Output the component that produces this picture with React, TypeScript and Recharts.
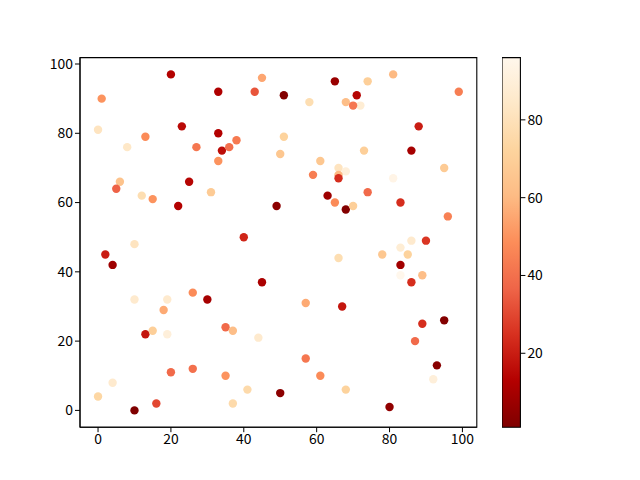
import React from 'react';
import { ScatterChart, Scatter, XAxis, YAxis, Cell, ComposedChart, ReferenceArea } from 'recharts';

// scatter positions and colour values
const xs = [
  20, 45, 1, 33, 43, 0, 23, 33, 38, 13, 8, 27, 34, 36, 33, 6, 5, 25, 12, 15, 31, 22, 49,
  51, 65, 74, 81, 58, 68, 71, 72, 70, 99, 51, 88, 50, 73, 86, 61, 66, 68, 95, 59, 66, 66, 81, 63, 65, 68, 70, 74, 83, 96,
  40, 10, 2, 4, 45, 26, 30, 10, 19, 18, 35, 37, 13, 15, 19, 44, 20, 26, 35, 4, 0, 41, 37, 16, 10, 50,
  86, 90, 83, 78, 85, 66, 83, 83, 86, 89, 57, 67, 95, 89, 87, 57, 61, 93, 92, 68, 80,
];
const ys = [
  97, 96, 90, 92, 92, 81, 82, 80, 78, 79, 76, 76, 75, 76, 72, 66, 64, 66, 62, 61, 63, 59, 59,
  91, 95, 95, 97, 89, 89, 91, 88, 88, 92, 79, 82, 74, 75, 75, 72, 70, 69, 70, 68, 68, 67, 67, 62, 60, 58, 59, 63, 60, 56,
  50, 48, 45, 42, 37, 34, 32, 32, 32, 29, 24, 23, 22, 23, 22, 21, 11, 12, 10, 8, 4, 6, 2, 2, 0, 5,
  49, 49, 47, 45, 45, 44, 39, 42, 37, 39, 31, 30, 26, 25, 20, 15, 10, 13, 9, 6, 1,
];
const cs = [
  13, 55, 50, 12, 33, 82, 15, 13, 43, 48, 84, 42, 16, 40, 50, 64, 36, 14, 78, 50, 68, 13, 4,
  2, 7, 70, 60, 78, 62, 14, 88, 42, 44, 72, 20, 66, 70, 10, 66, 82, 90, 68, 44, 60, 24, 94, 8, 48, 2, 70, 38, 24, 45,
  22, 82, 20, 8, 11, 48, 10, 86, 86, 56, 38, 62, 18, 70, 90, 86, 38, 40, 50, 86, 74, 76, 76, 30, 1, 4,
  86, 26, 88, 66, 72, 78, 96, 9, 24, 62, 56, 18, 2, 24, 38, 42, 48, 3, 90, 72, 5,
];
const xTicks = [0, 20, 40, 60, 80, 100];
const yTicks = [0, 20, 40, 60, 80, 100];
const cbTicks = [20, 40, 60, 80];

// OrRd, reversed (dark red for low values)
const ORRD_R = ['#7f0000', '#b30000', '#d7301f', '#ef6548', '#fc8d59', '#fdbb84', '#fdd49e', '#fee8c8', '#fff7ec'];

const cMin = Math.min(...cs);
const cMax = Math.max(...cs);

function hex(c: string) {
  return [1, 3, 5].map((i) => parseInt(c.slice(i, i + 2), 16));
}

function colorFor(v: number) {
  const t = Math.max(0, Math.min(1, (v - cMin) / (cMax - cMin))) * (ORRD_R.length - 1);
  const i = Math.min(Math.floor(t), ORRD_R.length - 2);
  const f = t - i;
  const a = hex(ORRD_R[i]);
  const b = hex(ORRD_R[i + 1]);
  const m = a.map((v0, k) => Math.round(v0 + (b[k] - v0) * f));
  return `rgb(${m[0]},${m[1]},${m[2]})`;
}

const data = xs.map((x, i) => ({ x, y: ys[i], c: cs[i] }));

// matplotlib's 5% margins around the data
const X_DOMAIN: [number, number] = [-4.95, 103.95];
const Y_DOMAIN: [number, number] = [-4.85, 101.85];
const tickStyle = { fill: '#000', fontSize: 13.9, fontFamily: '"Noto Sans CJK SC", "Noto Sans", sans-serif' };

const Dot = (props: any) => {
  const { cx, cy, fill } = props;
  return <circle cx={cx} cy={cy} r={4.2} fill={fill} />;
};

export default function App() {
  return (
    <div style={{ position: 'absolute', left: 0, top: 0, width: 640, height: 480, background: '#fff' }}>
      <ScatterChart
        width={640}
        height={480}
        margin={{ top: 57.6, right: 163.2, left: 0, bottom: 0 }}
        style={{ position: 'absolute', left: 0, top: 0 }}
      >
        <XAxis
          type="number"
          dataKey="x"
          domain={X_DOMAIN}
          ticks={xTicks}
          allowDataOverflow
          height={52.8}
          stroke="#000"
          tick={tickStyle}
          tickSize={5}
        />
        <YAxis
          type="number"
          dataKey="y"
          domain={Y_DOMAIN}
          ticks={yTicks}
          allowDataOverflow
          width={80}
          stroke="#000"
          tick={tickStyle}
          tickSize={5}
        />
        <Scatter data={data} shape={<Dot />} isAnimationActive={false}>
          {data.map((d, i) => (
            <Cell key={i} fill={colorFor(d.c)} />
          ))}
        </Scatter>
        <ReferenceArea
          x1={X_DOMAIN[0]}
          x2={X_DOMAIN[1]}
          y1={Y_DOMAIN[0]}
          y2={Y_DOMAIN[1]}
          fill="none"
          stroke="#000"
          strokeWidth={1.1}
          ifOverflow="visible"
        />
      </ScatterChart>

      {/* colour bar */}
      <svg width={0} height={0} style={{ position: 'absolute' }}>
        <defs>
          <linearGradient id="cbar" x1="0" y1="1" x2="0" y2="0">
            {ORRD_R.map((c, i) => (
              <stop key={i} offset={i / (ORRD_R.length - 1)} stopColor={c} />
            ))}
          </linearGradient>
        </defs>
      </svg>
      <ComposedChart
        width={80}
        height={480}
        data={[{ k: 0 }]}
        margin={{ top: 57.6, right: 0, left: 0, bottom: 52.8 }}
        style={{ position: 'absolute', left: 501.6, top: 0 }}
      >
        <XAxis dataKey="k" hide />
        <YAxis
          orientation="right"
          type="number"
          domain={[cMin, cMax]}
          ticks={cbTicks}
          allowDataOverflow
          width={61.6}
          axisLine={false}
          stroke="#000"
          tick={tickStyle}
          tickSize={5}
        />
        <ReferenceArea y1={cMin} y2={cMax} fill="url(#cbar)" fillOpacity={1} stroke="#000" strokeWidth={1.1} ifOverflow="visible" />
      </ComposedChart>
    </div>
  );
}
